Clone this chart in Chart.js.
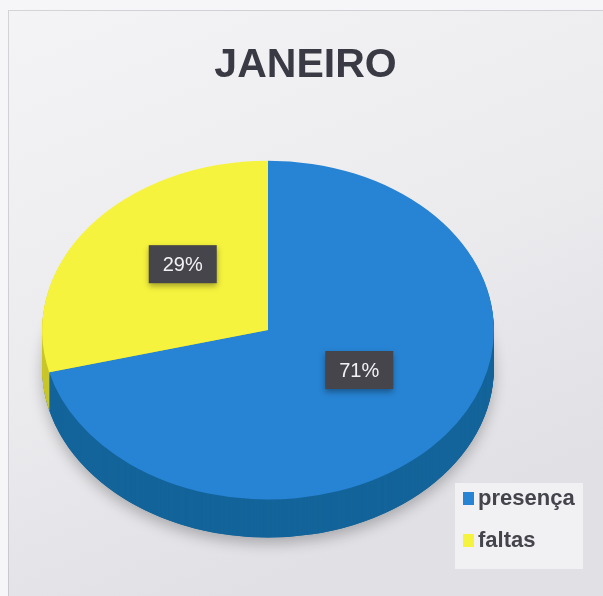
<!DOCTYPE html>
<html>
<head>
<meta charset="utf-8">
<script src="https://cdn.jsdelivr.net/npm/chart.js@4.4.0/dist/chart.umd.min.js"></script>
<style>
  html, body { margin: 0; padding: 0; background: #ececef; }
  #wrap { width: 603px; height: 596px; }
</style>
</head>
<body>
<div id="wrap"><canvas id="myChart" width="603" height="596"></canvas></div>
<script>
const labels = ['presença', 'faltas'];
const values = [71, 29];
const colors = ['#2784d4', '#f6f33e'];
const sideColors = ['#13649a', '#c9c62a'];

// look of the tilted pie
const centerX = 268;
const squash = 0.75;
const depth = 38;

function toScreen(chart, x, y) {
  const meta = chart.getDatasetMeta(0).data[0];
  const dx = centerX - meta.x;
  return { x: x + dx, y: meta.y + (y - meta.y) * squash };
}

const tiltPlugin = {
  id: 'tilt',
  beforeDraw(chart) {
    const { ctx, width, height } = chart;
    ctx.save();
    ctx.fillStyle = '#f6f6f8';
    ctx.fillRect(0, 0, width, height);
    const g = ctx.createLinearGradient(0, 0, width * 0.4, height);
    g.addColorStop(0, '#f4f4f6');
    g.addColorStop(0.6, '#ebebee');
    g.addColorStop(1, '#e0e0e5');
    ctx.fillStyle = g;
    ctx.fillRect(8, 10, width - 8, height - 10);
    ctx.strokeStyle = 'rgba(150,150,160,0.35)';
    ctx.lineWidth = 1;
    ctx.beginPath();
    ctx.moveTo(8.5, height);
    ctx.lineTo(8.5, 10.5);
    ctx.lineTo(width, 10.5);
    ctx.stroke();
    ctx.restore();
  },
  beforeDatasetsDraw(chart) {
    const { ctx } = chart;
    const arcs = chart.getDatasetMeta(0).data;
    const cx = arcs[0].x, cy = arcs[0].y;
    ctx.save();
    ctx.translate(centerX, cy);
    ctx.scale(1, squash);
    ctx.translate(-cx, -cy);
    // soft shadow under the disc
    ctx.save();
    ctx.shadowColor = 'rgba(0,0,0,0.25)';
    ctx.shadowBlur = 14;
    ctx.shadowOffsetY = 6;
    ctx.beginPath();
    ctx.arc(cx, cy + depth / squash, arcs[0].outerRadius, 0, Math.PI * 2);
    ctx.fillStyle = sideColors[0];
    ctx.fill();
    ctx.restore();
    // side of the disc
    for (let d = depth; d >= 1; d--) {
      arcs.forEach((arc, i) => {
        const p = arc.getProps(['x', 'y', 'startAngle', 'endAngle', 'outerRadius']);
        ctx.beginPath();
        ctx.moveTo(p.x, p.y + d / squash);
        ctx.arc(p.x, p.y + d / squash, p.outerRadius, p.startAngle, p.endAngle);
        ctx.closePath();
        ctx.fillStyle = sideColors[i];
        ctx.fill();
      });
    }
  },
  afterDatasetsDraw(chart) {
    chart.ctx.restore();
  },
  afterDraw(chart) {
    const { ctx } = chart;
    const arcs = chart.getDatasetMeta(0).data;
    const total = values.reduce((a, b) => a + b, 0);
    ctx.save();
    ctx.font = '20px "Liberation Sans", Arial, sans-serif';
    ctx.textAlign = 'center';
    ctx.textBaseline = 'middle';
    arcs.forEach((arc, i) => {
      const tp = arc.tooltipPosition();
      const s = toScreen(chart, tp.x, tp.y);
      const x = s.x + (i === 1 ? 4 : 2);
      const y = s.y - (i === 1 ? 14 : 12);
      ctx.shadowColor = 'rgba(0,0,0,0.35)';
      ctx.shadowBlur = 6;
      ctx.shadowOffsetY = 3;
      ctx.fillStyle = '#45454b';
      ctx.fillRect(x - 34, y - 19, 68, 38);
      ctx.shadowColor = 'transparent';
      ctx.fillStyle = '#f2f2f4';
      ctx.fillText(Math.round(values[i] / total * 100) + '%', x, y + 1);
    });
    // legend
    ctx.fillStyle = '#f1f1f3';
    ctx.fillRect(455, 483, 128, 86);
    ctx.font = 'bold 22px "Liberation Sans", Arial, sans-serif';
    ctx.textAlign = 'left';
    labels.forEach((lab, i) => {
      const y = 499 + i * 42;
      ctx.fillStyle = colors[i];
      ctx.fillRect(463, y - 7, 11, 13);
      ctx.fillStyle = '#44444c';
      ctx.fillText(lab, 478, y);
    });
    ctx.restore();
  }
};

new Chart(document.getElementById('myChart'), {
  type: 'pie',
  data: {
    labels: labels,
    datasets: [{
      data: values,
      backgroundColor: colors,
      borderWidth: 0
    }]
  },
  options: {
    responsive: false,
    animation: false,
    layout: { padding: { top: 13, left: 8, right: 0, bottom: 40 } },
    plugins: {
      legend: { display: false },
      tooltip: { enabled: false },
      title: {
        display: true,
        text: 'JANEIRO',
        color: '#3a3a44',
        font: { size: 41, weight: 'bold', family: '"Liberation Sans", Arial, sans-serif' },
        padding: { top: 28, bottom: 14 }
      }
    }
  },
  plugins: [tiltPlugin]
});
</script>
</body>
</html>
